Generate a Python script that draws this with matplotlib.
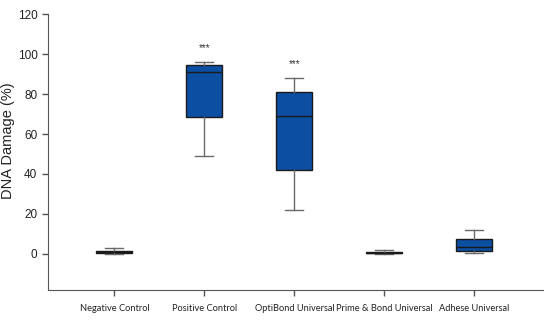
import matplotlib.pyplot as plt

# Datos (cuartiles y bigotes)
groups = ['Negative Control', 'Positive Control', 'OptiBond Universal',
          'Prime & Bond Universal', 'Adhese Universal']
whislo = [0.0, 49.0, 22.0, 0.2, 0.3]
q1 = [0.4, 68.3, 42.0, 0.3, 1.7]
med = [0.9, 91.0, 69.0, 0.7, 3.7]
q3 = [1.5, 94.5, 81.0, 1.2, 7.3]
whishi = [2.8, 95.8, 87.8, 2.0, 12.0]
stars = ['', '***', '***', '', '']

stats = []
for i in range(len(groups)):
    stats.append({'label': groups[i], 'whislo': whislo[i], 'q1': q1[i],
                  'med': med[i], 'q3': q3[i], 'whishi': whishi[i]})

fig = plt.figure(figsize=(5.5, 3.2), dpi=100)
ax = fig.add_axes([0.087, 0.094, 0.9, 0.862])

pos = list(range(len(groups)))
ax.bxp(stats, positions=pos, widths=0.4, showfliers=False, patch_artist=True,
       boxprops=dict(facecolor='#0b4ea2', edgecolor='#1a1a1a', linewidth=1.0),
       medianprops=dict(color='#1a1a1a', linewidth=1.0),
       whiskerprops=dict(color='#6a6a6a', linewidth=1.0),
       capprops=dict(color='#6a6a6a', linewidth=1.0), capwidths=0.2)

# asteriscos de significancia
for i, s in enumerate(stars):
    if s:
        ax.text(pos[i], whishi[i] + 4.5, s, ha='center', va='bottom',
                fontsize=7, color='#333333', family='Liberation Sans')

ax.set_xlim(-0.74, 4.76)
ax.set_ylim(-18, 120)
ax.set_yticks([0, 20, 40, 60, 80, 100, 120])
ax.set_xticks(pos)
ax.set_xticklabels(groups, fontsize=6.7, family='Lato', color='#222222')
for lab in ax.get_yticklabels():
    lab.set_family('Liberation Sans')
    lab.set_fontsize(8.5)
    lab.set_color('#222222')
ax.set_ylabel('DNA Damage (%)', fontsize=10.5, family='Liberation Sans', color='#222222')
ax.yaxis.set_label_coords(-0.067, 0.54)

ax.spines['top'].set_visible(False)
ax.spines['right'].set_visible(False)
ax.spines['left'].set_color('#555555')
ax.spines['bottom'].set_color('#555555')
ax.tick_params(axis='both', direction='out', length=4, color='#555555', width=1.0)
ax.tick_params(axis='x', pad=6)

fig.savefig('out.png', dpi=100)
